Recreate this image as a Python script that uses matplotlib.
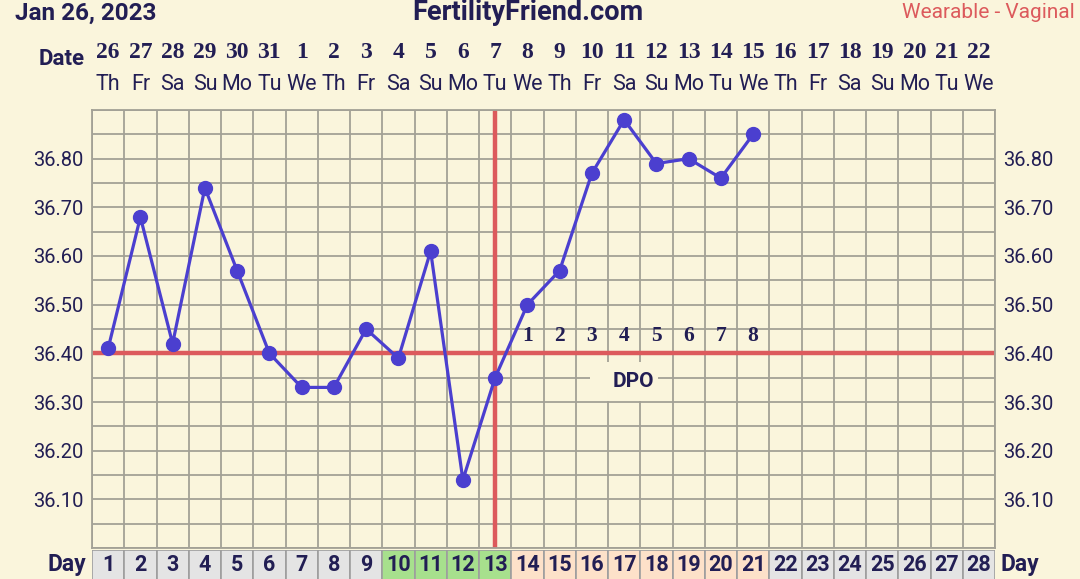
import matplotlib
matplotlib.use('Agg')
import matplotlib.pyplot as plt
from matplotlib.patches import Rectangle
from matplotlib.transforms import blended_transform_factory as btf
import numpy as np

# ---------------- data ----------------
days = list(range(1, 29))
dates = [26, 27, 28, 29, 30, 31, 1, 2, 3, 4, 5, 6, 7, 8, 9, 10, 11, 12, 13, 14,
         15, 16, 17, 18, 19, 20, 21, 22]
weekdays = ['Th', 'Fr', 'Sa', 'Su', 'Mo', 'Tu', 'We'] * 4
temp_days = list(range(1, 22))
temps = [36.41, 36.68, 36.42, 36.74, 36.57, 36.40, 36.33, 36.33, 36.45, 36.39,
         36.61, 36.14, 36.35, 36.50, 36.57, 36.77, 36.88, 36.79, 36.80, 36.76, 36.85]
coverline = 36.40
ovulation_day = 13
dpo_days = list(range(14, 22))
dpo_labels = ['1', '2', '3', '4', '5', '6', '7', '8']
fertile_days = [10, 11, 12, 13]
luteal_days = list(range(14, 22))
ytick_vals = [36.10, 36.20, 36.30, 36.40, 36.50, 36.60, 36.70, 36.80]
title_left = 'Jan 26, 2023'
title_mid = 'FertilityFriend.com'
title_right = 'Wearable - Vaginal'

# ---------------- style ----------------
BG = '#faf5dc'
NAVY = '#221e54'
GRID = '#a3a196'
LINE = '#4b3fcf'
RED = '#dc5a5c'
GREY_CELL = '#e4e4e4'
GREEN_CELL = '#a7e08d'
PEACH_CELL = '#fde1c9'

W, H = 1080, 579
fig = plt.figure(figsize=(W / 100, H / 100), dpi=100, facecolor=BG)

def fx(px):
    return px / W

def fy(py):
    return 1 - py / H

ax = fig.add_axes([fx(92), (H - 548) / H, (995 - 92) / W, (548 - 110) / H])
ax.set_facecolor(BG)
ax.set_xlim(0.5, 28.5)
ax.set_ylim(36.00, 36.90)

# grid
ax.set_xticks(np.arange(0.5, 28.6, 1.0))
ax.set_yticks(ytick_vals)
ax.set_yticks(np.arange(36.00, 36.91, 0.05), minor=True)
ax.grid(True, which='both', color=GRID, linewidth=1.3)
ax.tick_params(axis='x', length=0, labelbottom=False)
ax.tick_params(axis='y', which='both', length=0, labelleft=True, labelright=True,
               labelsize=14.5, labelcolor=NAVY, pad=6)
ax.set_yticklabels(['%.2f' % v for v in ytick_vals])
for lab in ax.get_yticklabels(which='major'):
    lab.set_family('Roboto')
for s in ax.spines.values():
    s.set_color(GRID)
    s.set_linewidth(1.3)
ax.set_axisbelow(True)

# DPO box covering grid
ax.add_patch(Rectangle((15.94, 36.303), 18.05 - 15.94, 36.382 - 36.303,
                       facecolor=BG, edgecolor='none', zorder=1.5))

# red lines
ax.axhline(coverline, color=RED, linewidth=3.2, zorder=2)
ax.axvline(ovulation_day, color=RED, linewidth=3.2, zorder=2)

# temperature line
ax.plot(temp_days, temps, color=LINE, linewidth=2.3, marker='o', markersize=10,
        zorder=4, clip_on=False)

# DPO labels
for d, t in zip(dpo_days, dpo_labels):
    ax.text(d, 36.436, t, ha='center', va='center', fontsize=15.5, color=NAVY,
            family='Liberation Serif', fontweight='bold', zorder=3)
ax.text(17.3, 36.343, 'DPO', ha='center', va='center', fontsize=15, color=NAVY,
        family='Roboto', fontweight='bold', zorder=3)

# day row
dax = fig.add_axes([fx(92), -2 / H, (995 - 92) / W, 31 / H])
dax.set_xlim(0.5, 28.5)
dax.set_ylim(0, 1)
dax.axis('off')
cell_colors = []
for d in days:
    if d in fertile_days:
        cell_colors.append(GREEN_CELL)
    elif d in luteal_days:
        cell_colors.append(PEACH_CELL)
    else:
        cell_colors.append(GREY_CELL)
dax.bar(days, 1, width=1, bottom=0, color=cell_colors, edgecolor='#9e9e9e',
        linewidth=1.2, align='center')
for d in days:
    dax.text(d, 0.52, str(d), ha='center', va='center', fontsize=15.5, color=NAVY,
             family='Roboto', fontweight='bold')

# date rows
tr = btf(ax.transData, fig.transFigure)
for d, dt, wd in zip(days, dates, weekdays):
    ax.text(d, fy(53), str(dt), transform=tr, ha='center', va='center', fontsize=17,
            color=NAVY, family='Liberation Serif', fontweight='bold')
    ax.text(d, fy(85), wd, transform=tr, ha='center', va='center', fontsize=15.5,
            color=NAVY, family='Roboto')

# labels
fig.text(fx(62), fy(59), 'Date', ha='center', va='center', fontsize=16,
         color=NAVY, family='Roboto', fontweight='bold')
fig.text(fx(67), fy(564), 'Day', ha='center', va='center', fontsize=16.5,
         color=NAVY, family='Roboto', fontweight='bold')
fig.text(fx(1020), fy(564), 'Day', ha='center', va='center', fontsize=16.5,
         color=NAVY, family='Roboto', fontweight='bold')

# header
fig.text(fx(15), fy(13), title_left, ha='left', va='center', fontsize=17.5,
         color=NAVY, family='Roboto', fontweight='bold')
fig.text(fx(528), fy(13), title_mid, ha='center', va='center', fontsize=19.5,
         color=NAVY, family='Roboto', fontweight='bold')
fig.text(fx(1075), fy(12), title_right, ha='right', va='center', fontsize=15,
         color=RED, family='Roboto')

fig.savefig('out.png', dpi=100, facecolor=BG)
